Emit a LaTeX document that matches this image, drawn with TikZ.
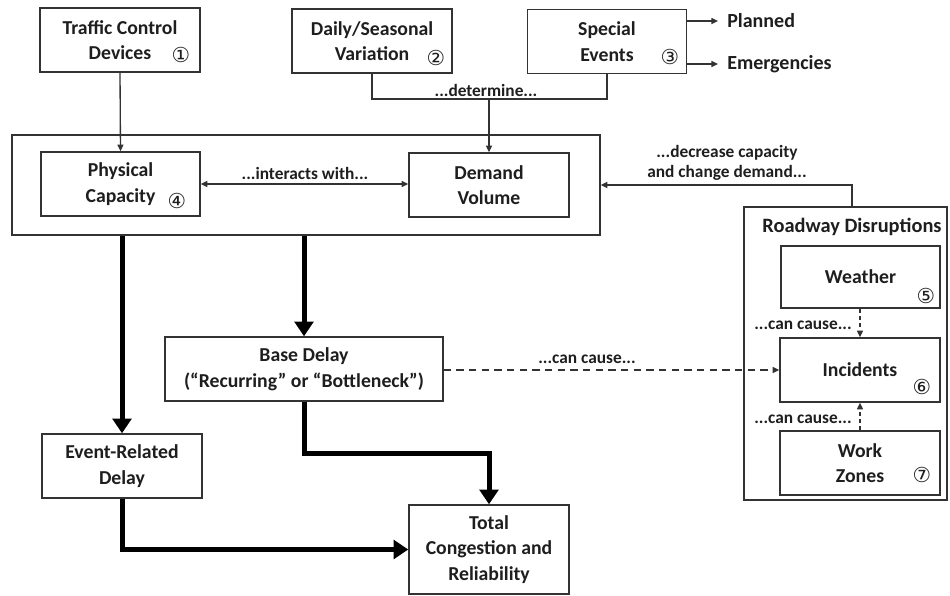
\documentclass[tikz,border=0pt]{standalone}
\usepackage{fontspec}
\setmainfont{Carlito}
\newfontfamily\circfont{DejaVu Sans}
\usetikzlibrary{arrows.meta}
\definecolor{ink}{HTML}{1E1E1E}
\definecolor{linegray}{HTML}{333333}
\begin{document}
\begin{tikzpicture}[x=0.75pt,y=-0.75pt,
  box/.style={draw=linegray, line width=1.1pt, fill=white, minimum width=120pt,
    minimum height=48pt, inner sep=0pt, align=center,
    font=\fontsize{14.8}{19.2}\selectfont\bfseries, text=ink},
  frame/.style={draw=linegray, line width=1.1pt, inner sep=0pt},
  lbl/.style={font=\fontsize{13}{15}\selectfont\bfseries, text=ink, inner sep=0pt, align=center},
  side/.style={font=\fontsize{15}{15}\selectfont\bfseries, text=ink, inner xsep=6.75pt, inner ysep=0pt, anchor=west},
  num/.style={font=\fontsize{15.5}{15.5}\circfont, text=ink, inner sep=0pt},
  thin/.style={draw=linegray, line width=1pt},
  tip/.style={-{Triangle[length=5pt,width=4.5pt]}},
  tips/.style={{Triangle[length=5pt,width=4.5pt]}-{Triangle[length=5pt,width=4.5pt]}},
  heavy/.style={draw=black, line width=3.75pt, -{Triangle[length=11pt,width=14pt]}},
  fine dash/.style={dash pattern=on 3pt off 2.5pt},
  long dash/.style={dash pattern=on 5.5pt off 4pt}]

\useasboundingbox (0,0) rectangle (950,596);
\fill[white] (0,0) rectangle (950,596);

% grouping frames
\node[frame, minimum width=441pt, minimum height=75pt] (core) at (306,185) {};
\node[frame, minimum width=152.25pt, minimum height=219.75pt] (rd) at (845.5,353.5) {};
\node[font=\fontsize{15.3}{15}\selectfont\bfseries, text=ink, inner sep=0pt] (rdtitle) at (852,227) {Roadway Disruptions};

% top row
\node[box] (tcd) at (120,40) {Traffic Control\\Devices};
\node[num] (n1) at (181,55) {①};
\node[box] (dsv) at (372,41) {Daily/Seasonal\\Variation};
\node[num] (n2) at (436,58) {②};
\node[box, minimum width=119.25pt] (se) at (607,41.5) {Special\\Events};
\node[num] (n3) at (670,57) {③};
\node[side] (planned) at (718,21) {Planned};
\node[side] (emerg) at (718,64) {Emergencies};

% capacity and demand
\node[box, minimum width=119.25pt] (pc) at (120.5,184) {Physical\\Capacity};
\node[num] (n4) at (177,201) {④};
\node[box] (dv) at (489,185) {Demand\\Volume};

% disruptions
\node[box, minimum width=119.25pt, minimum height=46.5pt] (wx) at (860.5,277) {Weather};
\node[num] (n5) at (926,296) {⑤};
\node[box] (inc) at (860,370) {Incidents};
\node[num] (n6) at (922,387) {⑥};
\node[box] (wz) at (860,463) {Work\\Zones};
\node[num] (n7) at (922,475) {⑦};

% delays and outcome
\node[box, minimum width=208.5pt] (bd) at (304,369) {Base Delay\\(“Recurring” or “Bottleneck”)};
\node[box] (erd) at (122,466) {Event-Related\\Delay};
\node[box, minimum height=66.75pt] (tot) at (489,549.5) {Total\\Congestion and\\Reliability};

% thin connectors
\draw[thin, tip] (tcd.south) -- (pc.north);
\coordinate (detj) at (489,99);
\draw[thin] (dsv.south) |- (se.south |- detj) -- (se.south);
\draw[thin, tip] (detj) -- (dv.north);
\node[lbl] (detlbl) at (486,90) {...determine...};
\draw[thin, tips] (pc.east) -- (dv.west |- pc.east);
\node[lbl] (intlbl) at (305,173) {...interacts with...};
\draw[thin, tip] (se.east |- planned.west) -- (planned.west);
\draw[thin, tip] (se.east |- emerg.west) -- (emerg.west);
\draw[thin, tip] (rdtitle |- rd.north) |- (core.east);
\node[lbl] (declbl) at (727,163) {...decrease capacity\\and change demand...};

% dashed "can cause" links
\draw[thin, tip, long dash] (bd.east |- inc.west) -- (inc.west);
\node[lbl] (cc1) at (587,359) {...can cause...};
\draw[thin, tip, fine dash] (wx.south -| inc.north) -- (inc.north);
\node[lbl] (cc2) at (803,325) {...can cause...};
\draw[thin, tip, fine dash] (wz.north) -- (inc.south);
\node[lbl] (cc3) at (803,419) {...can cause...};

% heavy flows
\draw[heavy] (core.south -| erd.north) -- (erd.north);
\draw[heavy] (core.south -| bd.north) -- (bd.north);
\coordinate (bend) at (489,453);
\draw[heavy] (bd.south) |- (bend) -- (tot.north);
\draw[heavy] (erd.south) |- (tot.west);
\end{tikzpicture}
\end{document}
